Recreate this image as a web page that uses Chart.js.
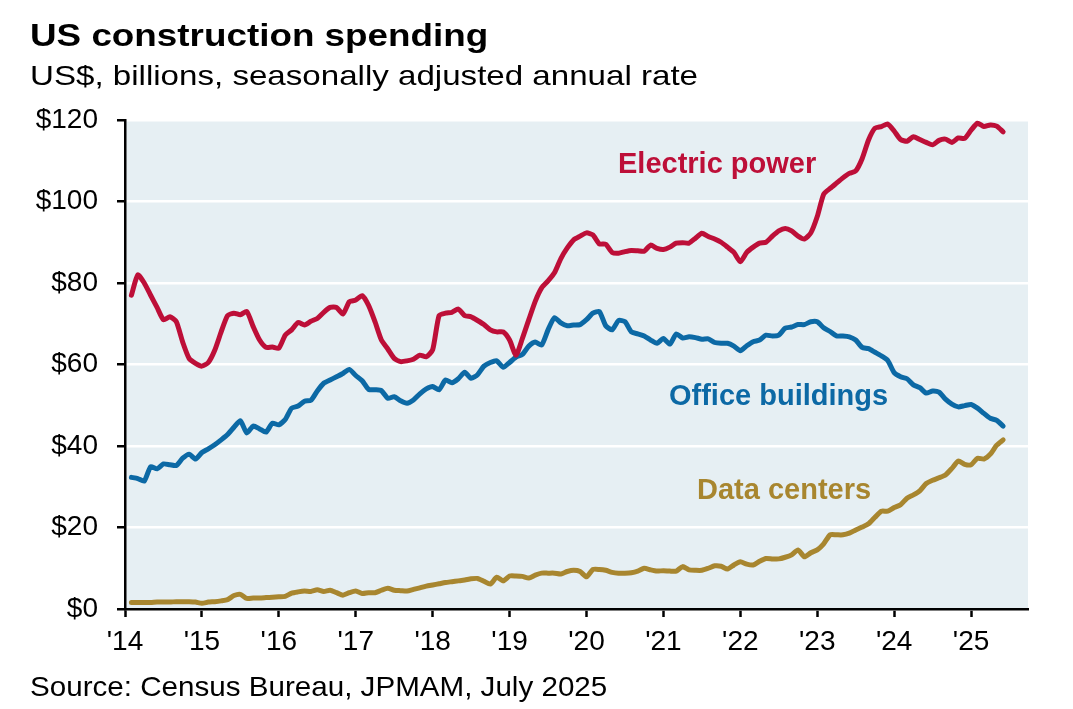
<!DOCTYPE html>
<html>
<head>
<meta charset="utf-8">
<title>US construction spending</title>
<script src="https://cdn.jsdelivr.net/npm/chart.js@4.4.1/dist/chart.umd.min.js"></script>
<style>
  body { margin: 0; background: #fff; }
  #wrap { position: relative; width: 1073px; height: 709px; overflow: hidden;
          font-family: "Liberation Sans", Arial, sans-serif; color: #000; }
  #chart { position: absolute; left: 0; top: 0; }
  .txt { position: absolute; left: 30px; white-space: nowrap; line-height: 1; transform-origin: 0 0; }
  #title { top: 19px; font-size: 32px; font-weight: bold; }
  #sub { top: 62px; font-size: 28px; }
  #src { top: 673px; font-size: 28px; }
</style>
</head>
<body>
<div id="wrap">
  <canvas id="chart" width="1073" height="709"></canvas>
  <div class="txt" id="title" data-w="458">US construction spending</div>
  <div class="txt" id="sub" data-w="668">US$, billions, seasonally adjusted annual rate</div>
  <div class="txt" id="src" data-w="577">Source: Census Bureau, JPMAM, July 2025</div>
</div>
<script>
// monthly, Jan 2014 .. May 2025 (plotted at month end)
var firstYear = 2014;
var monthLabels = [];
for (var i = 0; i < 137; i++) {
    var yy = firstYear + Math.floor(i / 12);
    var mm = (i % 12) + 1;
    monthLabels.push(yy + '-' + (mm < 10 ? '0' + mm : mm));
}

var yearTicks = [2014, 2015, 2016, 2017, 2018, 2019, 2020, 2021, 2022, 2023, 2024, 2025];
var valueTicks = [0, 20, 40, 60, 80, 100, 120];

var electricPower = [
    77, 82, 80, 77, 74, 71, 71.7, 70.5, 65.5, 61.5,
    60.3, 59.6, 60.5, 63.5, 68, 72, 72.6, 72.2, 73, 69.3,
    66, 64.2, 64.3, 64, 67.2, 68.5, 70.3, 69.7, 70.6, 71.3,
    72.8, 74, 74, 72.4, 75.4, 75.8, 76.9, 74.5, 70.5, 66,
    63.8, 61.5, 60.7, 60.9, 61.3, 62.3, 61.9, 63.6, 72, 72.6,
    72.8, 73.6, 72, 71.7, 70.8, 69.8, 68.5, 68, 68, 66,
    62.3, 66.4, 71, 75.5, 78.8, 80.5, 82.5, 86, 88.6, 90.6,
    91.5, 92.3, 91.8, 89.6, 89.5, 87.5, 87.3, 87.7, 88, 87.9,
    87.8, 89.3, 88.5, 88.2, 88.8, 89.8, 89.9, 89.8, 91, 92.2,
    91.4, 90.8, 90, 88.8, 87.5, 85.2, 87.5, 88.8, 89.8, 90,
    91.5, 92.8, 93.4, 92.8, 91.5, 90.8, 92.3, 96.3, 101.8, 103.2,
    104.5, 105.8, 106.9, 107.5, 110.5, 115.1, 118, 118.4, 119, 117.3,
    115.2, 114.8, 115.9, 115.2, 114.5, 113.9, 115, 115.3, 114.5, 115.6,
    115.5, 117.5, 119.2, 118.4, 118.8, 118.5, 117.1
];

var officeBuildings = [
    32.3, 32.0, 31.4, 34.9, 34.4, 35.6, 35.4, 35.2, 37.0, 38.0,
    36.8, 38.4, 39.3, 40.3, 41.5, 42.8, 44.6, 46.2, 43.2, 44.9,
    44.2, 43.4, 45.6, 45.2, 46.5, 49.3, 49.8, 51.0, 51.2, 53.5,
    55.4, 56.2, 57.0, 57.8, 58.8, 57.3, 56.0, 53.9, 53.8, 53.6,
    51.7, 52.1, 51.1, 50.5, 51.3, 52.8, 54.0, 54.6, 53.8, 56.2,
    55.5, 56.5, 58.1, 56.6, 57.5, 59.6, 60.5, 60.9, 59.3, 60.5,
    61.8, 62.5, 64.5, 65.5, 64.8, 68.5, 71.5, 70.2, 69.5, 69.7,
    69.8, 71.0, 72.6, 73.0, 69.5, 68.5, 70.8, 70.5, 68.0, 67.5,
    67.0, 66.0, 65.2, 66.4, 65.0, 67.5, 66.5, 66.8, 66.6, 66.2,
    66.3, 65.4, 65.2, 65.2, 64.5, 63.4, 64.6, 65.6, 66.0, 67.2,
    67.0, 67.2, 68.9, 69.2, 69.8, 69.8, 70.5, 70.5, 69.0, 68.1,
    67.0, 67.0, 66.8, 66.0, 64.2, 63.9, 63.0, 62.1, 61.0, 58.0,
    57.0, 56.5, 55.0, 54.3, 53.0, 53.5, 53.2, 51.5, 50.3, 49.6,
    49.9, 50.2, 49.3, 48.0, 46.8, 46.3, 44.9
];

var dataCenters = [
    1.6, 1.6, 1.6, 1.6, 1.7, 1.7, 1.7, 1.8, 1.8, 1.8,
    1.7, 1.4, 1.7, 1.8, 2.0, 2.3, 3.3, 3.6, 2.6, 2.7,
    2.7, 2.8, 2.9, 3.0, 3.1, 3.9, 4.2, 4.4, 4.3, 4.7,
    4.3, 4.6, 4.0, 3.4, 4.0, 4.4, 3.8, 4.0, 4.0, 4.6,
    5.1, 4.6, 4.5, 4.4, 4.8, 5.2, 5.6, 5.9, 6.2, 6.5,
    6.7, 6.9, 7.1, 7.4, 7.5, 6.8, 6.1, 7.8, 6.9, 8.1,
    8.1, 8.0, 7.6, 8.3, 8.8, 8.8, 8.8, 8.6, 9.2, 9.5,
    9.2, 7.9, 9.7, 9.7, 9.5, 9.0, 8.8, 8.8, 8.9, 9.3,
    10.0, 9.6, 9.3, 9.4, 9.3, 9.3, 10.4, 9.6, 9.5, 9.5,
    10.0, 10.6, 10.5, 9.8, 10.8, 11.6, 11.0, 10.8, 11.7, 12.4,
    12.3, 12.3, 12.7, 13.3, 14.5, 12.8, 13.8, 14.5, 16.0, 18.2,
    18.2, 18.2, 18.6, 19.4, 20.1, 20.9, 22.5, 24.0, 24.0, 24.9,
    25.6, 27.2, 28.0, 29.0, 30.8, 31.6, 32.2, 32.9, 34.5, 36.3,
    35.5, 35.4, 37.0, 36.8, 38.0, 40.2, 41.5
];

var RED = '#bd0f38';
var BLUE = '#0c69a5';
var GOLD = '#a8862f';

function toPoints(values) {
    return values.map(function (v, i) {
        var parts = monthLabels[i].split('-');
        return { x: +parts[0] + (+parts[1]) / 12, y: v };
    });
}

// stretch the heading texts to the widths seen in the original
document.querySelectorAll('.txt').forEach(function (el) {
    var w = +el.getAttribute('data-w');
    el.style.transform = 'scaleX(' + (w / el.offsetWidth) + ')';
});

var plotBackground = {
    id: 'plotBackground',
    beforeDraw: function (chart) {
        var a = chart.chartArea, c = chart.ctx;
        c.save();
        c.fillStyle = '#e6eff3';
        c.fillRect(a.left, a.top, a.right - a.left, a.bottom - a.top);
        c.restore();
    }
};

// in-chart series names
var seriesNames = [
    { text: 'Electric power', color: RED, x: 618, y: 173 },
    { text: 'Office buildings', color: BLUE, x: 669, y: 405 },
    { text: 'Data centers', color: GOLD, x: 697, y: 499 }
];
var seriesLabels = {
    id: 'seriesLabels',
    afterDatasetsDraw: function (chart) {
        var c = chart.ctx;
        c.save();
        c.font = 'bold 29px "Liberation Sans", Arial, sans-serif';
        c.textAlign = 'left';
        c.textBaseline = 'alphabetic';
        seriesNames.forEach(function (s) {
            c.fillStyle = s.color;
            c.fillText(s.text, s.x, s.y);
        });
        c.restore();
    }
};

Chart.defaults.font.family = '"Liberation Sans", Arial, sans-serif';
Chart.defaults.color = '#000';

var ctx = document.getElementById('chart').getContext('2d');
var chart = new Chart(ctx, {
    type: 'line',
    data: {
        datasets: [
            { label: 'Electric power', data: toPoints(electricPower), borderColor: RED },
            { label: 'Office buildings', data: toPoints(officeBuildings), borderColor: BLUE },
            { label: 'Data centers', data: toPoints(dataCenters), borderColor: GOLD }
        ]
    },
    options: {
        responsive: false,
        animation: false,
        layout: { padding: { left: 0, top: 120, right: 45, bottom: 50 } },
        elements: {
            line: { borderWidth: 5, tension: 0.2, borderCapStyle: 'round', borderJoinStyle: 'round' },
            point: { radius: 0 }
        },
        plugins: { legend: { display: false }, tooltip: { enabled: false } },
        scales: {
            x: {
                type: 'linear',
                min: yearTicks[0],
                max: 2025.74,
                afterFit: function (s) { s.height = 50; },
                afterBuildTicks: function (s) {
                    s.ticks = yearTicks.map(function (y) { return { value: y }; });
                },
                ticks: {
                    autoSkip: false, maxRotation: 0, padding: 8,
                    font: { size: 28 },
                    callback: function (v) { return "'" + String(v).slice(2); }
                },
                grid: { drawOnChartArea: false, tickColor: '#000', tickLength: 8, tickWidth: 2.5 },
                border: { color: '#000', width: 2.5 }
            },
            y: {
                min: valueTicks[0],
                max: valueTicks[valueTicks.length - 1],
                afterFit: function (s) { s.width = 125; },
                afterBuildTicks: function (s) {
                    s.ticks = valueTicks.map(function (v) { return { value: v }; });
                },
                ticks: {
                    padding: 19,
                    font: { size: 28 },
                    callback: function (v) { return '$' + v; }
                },
                grid: { color: '#ffffff', lineWidth: 2.5, tickColor: '#000', tickLength: 8, tickWidth: 2.5 },
                border: { color: '#000', width: 2.5 }
            }
        }
    },
    plugins: [plotBackground, seriesLabels]
});
</script>
</body>
</html>
